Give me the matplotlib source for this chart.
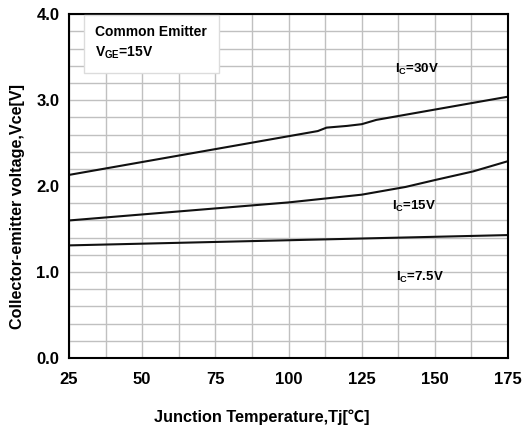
import matplotlib
matplotlib.use("Agg")
import matplotlib.pyplot as plt
import numpy as np

# Data
tj_30 = [25, 50, 75, 100, 105, 110, 113, 120, 125, 130, 140, 150, 160, 175]
vce_30 = [2.13, 2.28, 2.43, 2.58, 2.61, 2.64, 2.68, 2.70, 2.72, 2.77, 2.83, 2.89, 2.95, 3.04]

tj_15 = [25, 50, 75, 100, 125, 140, 150, 163, 175]
vce_15 = [1.60, 1.67, 1.74, 1.81, 1.90, 1.99, 2.07, 2.17, 2.29]

tj_75 = [25, 100, 175]
vce_75 = [1.31, 1.37, 1.43]

x_ticks = [25, 50, 75, 100, 125, 150, 175]
y_ticks = [0.0, 1.0, 2.0, 3.0, 4.0]

fam = ['Liberation Sans', 'DejaVu Sans']
plt.rcParams['font.family'] = fam
plt.rcParams['font.weight'] = 'bold'

fig = plt.figure(figsize=(5.27, 4.29), dpi=100)
ax = fig.add_axes([0.131, 0.1655, 0.833, 0.8015])

ax.set_xlim(25, 175)
ax.set_ylim(0, 4)
ax.set_xticks(np.arange(25, 175.1, 12.5), minor=True)
ax.set_yticks(np.arange(0, 4.01, 0.2), minor=True)
ax.grid(which='both', color='#c0c0c0', linewidth=1.0)
ax.set_axisbelow(True)
ax.set_xticks(x_ticks)
ax.set_yticks(y_ticks)
ax.set_yticklabels([f"{v:.1f}" for v in y_ticks])
ax.tick_params(which='both', length=0)
ax.tick_params(axis='x', pad=10, labelsize=12)
ax.tick_params(axis='y', pad=7, labelsize=12)
for lab in ax.get_xticklabels() + ax.get_yticklabels():
    lab.set_fontweight('bold')
for s in ax.spines.values():
    s.set_linewidth(1.5)
    s.set_color('black')

for x, y in [(tj_30, vce_30), (tj_15, vce_15), (tj_75, vce_75)]:
    ax.plot(x, y, color='#111111', linewidth=1.5)

ax.text(144, 3.36, r'I$_\mathregular{C}$=30V', fontsize=9.5, fontweight='bold', ha='center', va='center')
ax.text(143, 1.76, r'I$_\mathregular{C}$=15V', fontsize=9.5, fontweight='bold', ha='center', va='center')
ax.text(145, 0.94, r'I$_\mathregular{C}$=7.5V', fontsize=9.5, fontweight='bold', ha='center', va='center')

ax.text(34.0, 3.66,
        'Common Emitter\nV$_\\mathregular{GE}$=15V',
        fontsize=10, fontweight='bold', ha='left', va='center', linespacing=1.45,
        bbox=dict(boxstyle='square,pad=0.85', facecolor='white', edgecolor='#dcdcdc', linewidth=1.0))

ax.set_xlabel('Junction Temperature,Tj[℃]', fontsize=11.7, fontweight='bold',
              family=['Liberation Sans', 'Noto Sans CJK SC', 'DejaVu Sans'])
ax.xaxis.set_label_coords(0.44, -0.15)
ax.set_ylabel('Collector-emitter voltage,Vce[V]', fontsize=11.6, fontweight='bold')
ax.yaxis.set_label_coords(-0.10, 0.44)

fig.savefig('out.png', dpi=100)
